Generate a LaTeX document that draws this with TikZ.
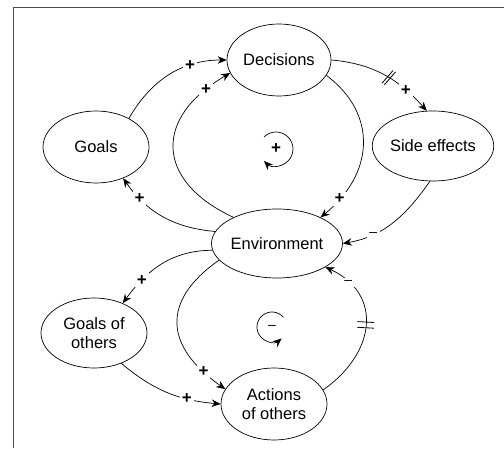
\documentclass[tikz,border=0pt]{standalone}
\usepackage{fontspec}
\setmainfont{Liberation Sans}
\usetikzlibrary{shapes.geometric,arrows.meta}

\tikzset{
  var/.style={ellipse, draw, line width=0.7pt, inner sep=0pt, align=center,
    font=\fontsize{16.5}{19.5}\selectfont},
  link/.style={line width=0.7pt, -{Stealth[length=9pt,width=7.5pt]}},
  sgn/.style={fill=white, inner sep=2pt, font=\fontsize{17}{17}\selectfont\bfseries},
  neg/.style={fill=white, inner sep=2.5pt, font=\fontsize{14}{14}\selectfont},
  delaymark/.style={sloped, inner sep=0pt, minimum width=5pt, minimum height=16pt},
  loopsign/.style={line width=0.7pt, -{Stealth[length=9pt,width=7.5pt]}},
}

\begin{document}
\begin{tikzpicture}[x=1pt,y=1pt]
  \useasboundingbox (0,0) rectangle (504,448);
  % frame
  \draw[line width=0.8pt, black!70] (13,0) -- (13,441) -- (504,441);

  % variables
  \node[var, minimum width=104pt, minimum height=72pt] (dec) at (279,388) {Decisions};
  \node[var, minimum width=106pt, minimum height=72pt] (goals) at (96,301) {Goals};
  \node[var, minimum width=108pt, minimum height=70pt] (side) at (433,302) {Side effects};
  \node[var, minimum width=122pt, minimum height=69pt] (env) at (277,204.5) {Environment};
  \node[var, minimum width=106pt, minimum height=70pt] (ogoals) at (94,115) {Goals of\\others};
  \node[var, minimum width=106pt, minimum height=72pt] (oact) at (274,44) {Actions\\of others};

  % causal links
  \draw[link] (goals.41) to[out=60,in=180]
    node[sgn, pos=0.7] {+} (dec.west);
  \draw[link] (env.149) to[out=155,in=210,looseness=1.55]
    node[sgn, pos=0.88] {+} (dec.195);
  \draw[link] (dec.-18) to[out=-37,in=39,looseness=1.2]
    node[sgn, pos=0.86] {+} (env.31);
  \draw[link] (dec.east) to[out=-5,in=132]
    node[delaymark, pos=0.55] (dl1) {}
    node[sgn, pos=0.75] {+} (side.100);
  \draw[link] (side.265) to[out=235,in=10]
    node[neg, pos=0.72] {\textendash} (env.east);
  \draw[link] (env.169) to[out=175,in=-55]
    node[sgn, pos=0.78] {+} (goals.-49);
  \draw[link] (env.186) to[out=180,in=54]
    node[sgn, pos=0.74] {+} (ogoals.46);
  \draw[link] (env.196) to[out=215,in=145,looseness=1.44]
    node[sgn, pos=0.86] {+} (oact.163);
  \draw[link] (ogoals.-48) to[out=-40,in=175]
    node[sgn, pos=0.7] {+} (oact.west);
  \draw[link] (oact.16) to[out=35,in=-25,looseness=1.33]
    node[delaymark, pos=0.5] (dl2) {}
    node[neg, pos=0.84] {\textendash} (env.-26);

  % delay marks
  \draw[line width=0.8pt] (dl1.north) -- (dl1.south west)
                          (dl1.north east) -- (dl1.south);
  \draw[line width=0.8pt] (dl2.north west) -- (dl2.south west)
                          (dl2.north east) -- (dl2.south east);

  % loop polarity markers
  \node[font=\fontsize{17}{17}\selectfont\bfseries] (rloop) at (276,299) {+};
  \draw[loopsign] ([shift={(135:17)}]rloop.center) arc[start angle=135, end angle=-135, radius=17];
  \node[font=\fontsize{14}{14}\selectfont] (bloop) at (272,121) {\textendash};
  \draw[loopsign] ([shift={(40:15)}]bloop.center) arc[start angle=40, end angle=310, radius=15];
\end{tikzpicture}
\end{document}
